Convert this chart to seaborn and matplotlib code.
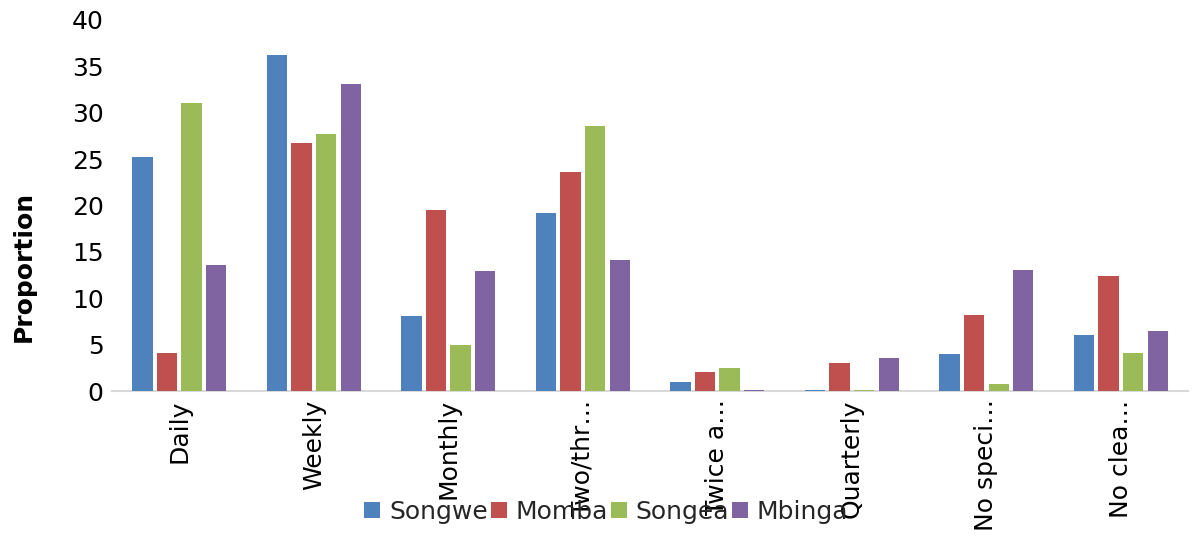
import matplotlib
matplotlib.use("Agg")
import matplotlib.pyplot as plt
import seaborn as sns
import pandas as pd

# Cleaning frequency categories (labels truncated as displayed)
categories = ["Daily", "Weekly", "Monthly", "Two/thr\u2026", "Twice a\u2026",
              "Quarterly", "No speci\u2026", "No clea\u2026"]
districts = ["Songwe", "Momba", "Songea", "Mbinga"]

songwe = [25.2, 36.2, 8.1, 19.2, 1.0, 0.1, 4.0, 6.0]
momba = [4.1, 26.7, 19.5, 23.6, 2.1, 3.0, 8.2, 12.4]
songea = [31.0, 27.7, 5.0, 28.6, 2.5, 0.1, 0.8, 4.1]
mbinga = [13.6, 33.1, 12.9, 14.1, 0.1, 3.6, 13.0, 6.5]

colors = ["#4F81BD", "#C0504D", "#9BBB59", "#8064A2"]

series = {"Songwe": songwe, "Momba": momba, "Songea": songea, "Mbinga": mbinga}
rows = []
for name in districts:
    for cat, val in zip(categories, series[name]):
        rows.append({"Frequency": cat, "Proportion": val, "District": name})
df = pd.DataFrame(rows)

sns.set_theme(style="white")
plt.rcParams["font.family"] = ["DejaVu Sans"]

fig = plt.figure(figsize=(11.98, 5.36), dpi=100)
ax = fig.add_axes([0.0935, 0.2705, 0.8982, 0.6922])

sns.barplot(data=df, x="Frequency", y="Proportion", hue="District",
            order=categories, hue_order=districts, palette=colors,
            width=0.73, gap=0.18, saturation=1, errorbar=None,
            linewidth=0, edgecolor="none", ax=ax)
# draw bars above the baseline so the tiny values stay visible
for patch in ax.patches:
    patch.set_zorder(3)

ax.set_xlim(-0.5, len(categories) - 0.5)
ax.set_ylim(0, 40)
ax.set_yticks(range(0, 41, 5))
ax.tick_params(axis="y", length=0, pad=6, labelsize=18, labelcolor="#000000")
ax.tick_params(axis="x", length=0, pad=6, labelsize=18, labelcolor="#000000")
for lbl in ax.get_xticklabels():
    lbl.set_rotation(90)
    lbl.set_va("top")
    lbl.set_ha("center")

ax.set_xlabel("")
ax.set_ylabel("Proportion", fontsize=18, fontweight="bold", color="#000000")
ax.yaxis.set_label_coords(-0.071, 0.335)

for side in ["top", "right", "left"]:
    ax.spines[side].set_visible(False)
ax.spines["bottom"].set_color("#D9D9D9")
ax.spines["bottom"].set_linewidth(1.5)

handles, labels = ax.get_legend_handles_labels()
ax.get_legend().remove()
fig.legend(handles, labels, loc="center", bbox_to_anchor=(0.506, 0.045),
           ncol=4, frameon=False, fontsize=18, handlelength=0.64,
           handleheight=0.64, handletextpad=0.36, columnspacing=0.1,
           borderpad=0)

fig.savefig("out.png", dpi=100)
